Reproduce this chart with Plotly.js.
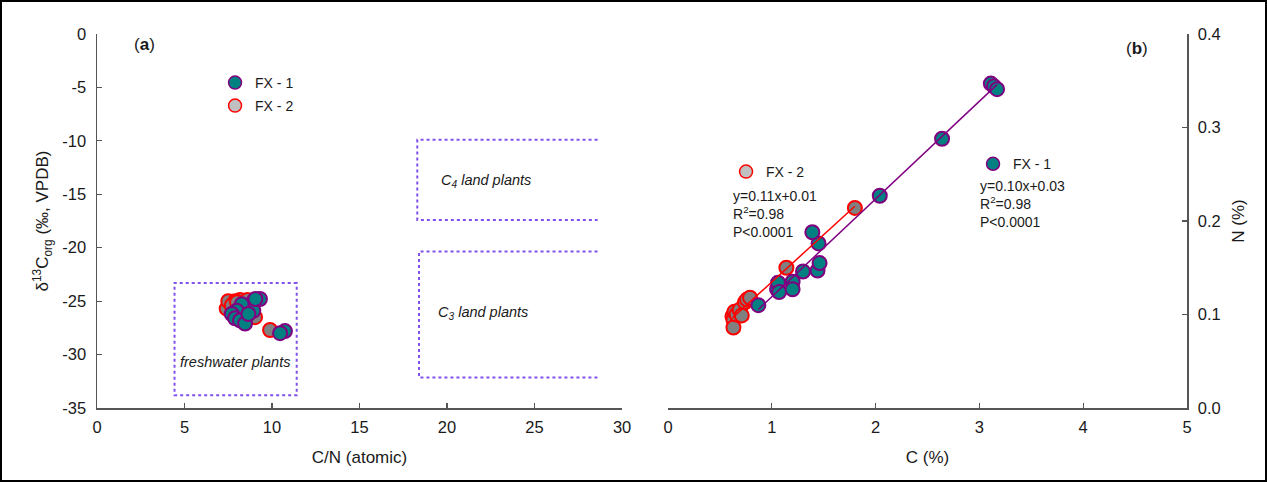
<!DOCTYPE html>
<html><head><meta charset="utf-8">
<script src="https://cdn.plot.ly/plotly-3.0.1.min.js"></script>
<style>
html,body{margin:0;padding:0;background:#fff;}
#wrap{position:relative;width:1267px;height:482px;}
#chart{position:absolute;left:0;top:0;width:1267px;height:482px;}
#frame{position:absolute;left:0;top:0;width:1267px;height:482px;box-sizing:border-box;border:2px solid #000;pointer-events:none;}
</style></head><body>
<div id="wrap"><div id="chart"></div><div id="frame"></div></div>
<script>
// ---- Panel (a): C/N (atomic) vs d13C_org ----
const aFX1_CN = [9.31, 8.97, 8.84, 8.55, 8.27, 7.98, 7.70, 7.89, 8.17, 8.46, 8.93, 8.65, 10.74, 10.46, 9.05];
const aFX1_d13C = [-24.8, -24.95, -25.3, -25.6, -25.3, -25.9, -26.2, -26.6, -26.8, -27.1, -25.9, -26.2, -27.8, -28.0, -24.8];
const aFX2_CN = [7.56, 8.17, 8.90, 9.03, 9.89, 7.41, 7.50, 8.30, 7.90, 7.70, 8.00, 8.60];
const aFX2_d13C = [-25.2, -24.9, -26.2, -26.5, -27.7, -25.7, -25.0, -25.3, -25.0, -25.4, -25.1, -24.9];

// ---- Panel (b): C (%) vs N (%) ----
const bFX1_C = [0.87, 1.05, 1.06, 1.07, 1.20, 1.20, 1.30, 1.44, 1.46, 1.45, 1.39, 2.04, 2.64, 3.11, 3.14, 3.17];
const bFX1_N = [0.110, 0.127, 0.134, 0.124, 0.135, 0.127, 0.146, 0.147, 0.155, 0.176, 0.188, 0.227, 0.288, 0.347, 0.344, 0.341];
const bFX2_C = [0.62, 0.63, 0.63, 0.64, 0.66, 0.69, 0.71, 0.74, 0.76, 0.79, 1.14, 1.80];
const bFX2_N = [0.098, 0.094, 0.086, 0.103, 0.100, 0.105, 0.099, 0.113, 0.116, 0.118, 0.150, 0.214];

// ---- Tick labels ----
const aXTicks = [0, 5, 10, 15, 20, 25, 30];
const aYTickVals = [0, -5, -10, -15, -20, -25, -30, -35];
const aYTickText = ['0', '-5', '-10', '-15', '-20', '-25', '-30', '-35'];
const bXTicks = [0, 1, 2, 3, 4, 5];
const bYTickVals = [0, 0.1, 0.2, 0.3, 0.4];
const bYTickText = ['0.0', '0.1', '0.2', '0.3', '0.4'];

// ---- Source regions (C/N atomic, d13C) ----
const freshwaterBox = {cn: [4.43, 11.41], d: [-23.3, -33.8]};
const c4Box = {cn: [18.3, 28.6], d: [-9.9, -17.4]};
const c3Box = {cn: [18.4, 28.6], d: [-20.35, -32.15]};

// ---- Regression text ----
const eqFX2 = 'y=0.11x+0.01<br>R<sup>2</sup>=0.98<br>P&lt;0.0001';
const eqFX1 = 'y=0.10x+0.03<br>R<sup>2</sup>=0.98<br>P&lt;0.0001';

function fit(xs, ys) {
  const n = xs.length;
  const mx = xs.reduce((s, v) => s + v, 0) / n;
  const my = ys.reduce((s, v) => s + v, 0) / n;
  let sxy = 0, sxx = 0;
  for (let i = 0; i < n; i++) { sxy += (xs[i] - mx) * (ys[i] - my); sxx += (xs[i] - mx) ** 2; }
  const b = sxy / sxx, a = my - b * mx;
  const x0 = Math.min(...xs), x1 = Math.max(...xs);
  return {x: [x0, x1], y: [a + b * x0, a + b * x1]};
}

const TEAL = '#008080', PURPLE = '#800080', GREY = '#808080', RED = '#ff0000', BOX = '#8050ee';
const FONT = 'Arial, "Liberation Sans", sans-serif';
const mFX1 = {color: TEAL, size: 14, line: {color: PURPLE, width: 2}};
const mFX2 = {color: GREY, size: 14, line: {color: RED, width: 2}};

const l2 = fit(bFX2_C, bFX2_N);
const l1 = fit(bFX1_C, bFX1_N);

const traces = [
  {x: aFX2_CN, y: aFX2_d13C, xaxis: 'x', yaxis: 'y', mode: 'markers', marker: mFX2, showlegend: false},
  {x: aFX1_CN, y: aFX1_d13C, xaxis: 'x', yaxis: 'y', mode: 'markers', marker: mFX1, showlegend: false},
  {x: bFX2_C, y: bFX2_N, xaxis: 'x2', yaxis: 'y2', mode: 'markers', marker: mFX2, showlegend: false},
  {x: bFX1_C, y: bFX1_N, xaxis: 'x2', yaxis: 'y2', mode: 'markers', marker: mFX1, showlegend: false},
  {x: l2.x, y: l2.y, xaxis: 'x2', yaxis: 'y2', mode: 'lines', line: {color: RED, width: 1.5}, showlegend: false},
  {x: l1.x, y: l1.y, xaxis: 'x2', yaxis: 'y2', mode: 'lines', line: {color: PURPLE, width: 1.5}, showlegend: false},
  // legend entries
  {x: [null], y: [null], xaxis: 'x', yaxis: 'y', mode: 'markers', name: 'FX - 1', legend: 'legend',
   marker: {color: TEAL, size: 13, line: {color: PURPLE, width: 1.5}}},
  {x: [null], y: [null], xaxis: 'x', yaxis: 'y', mode: 'markers', name: 'FX - 2', legend: 'legend2',
   marker: {color: '#c0c0c0', size: 13, line: {color: RED, width: 1.5}}},
  {x: [null], y: [null], xaxis: 'x', yaxis: 'y', mode: 'markers', name: 'FX - 2', legend: 'legend3',
   marker: {color: '#c0c0c0', size: 13, line: {color: RED, width: 1.5}}},
  {x: [null], y: [null], xaxis: 'x', yaxis: 'y', mode: 'markers', name: 'FX - 1', legend: 'legend4',
   marker: {color: TEAL, size: 13, line: {color: PURPLE, width: 1.5}}}
];

function openBox(b, closed) {
  const [xl, xr] = b.cn, [yt, yb] = b.d;
  let p = `M ${xr},${yt} L ${xl},${yt} L ${xl},${yb} L ${xr},${yb}`;
  if (closed) p += ' Z';
  return {type: 'path', xref: 'x', yref: 'y', path: p, line: {color: BOX, width: 2, dash: 'dot'}};
}

const legBase = {bgcolor: 'rgba(0,0,0,0)', borderwidth: 0, font: {family: FONT, size: 14, color: '#1a1a1a'},
  xanchor: 'left', yanchor: 'middle', itemclick: false, itemdoubleclick: false};

const tickFont = {family: FONT, size: 16.5, color: '#1a1a1a'};
const titleFont = {family: FONT, size: 17, color: '#1a1a1a'};
const labFont = {family: FONT, size: 14.5, color: '#1a1a1a'};
const eqFont = {family: FONT, size: 14, color: '#1a1a1a'};
const axCommon = {showgrid: false, zeroline: false, showline: true, linecolor: '#555', linewidth: 1.5,
  ticks: 'inside', ticklen: 5, tickwidth: 1.2, tickcolor: '#555', tickfont: tickFont};

const layout = {
  width: 1267, height: 482,
  margin: {l: 97, r: 80, t: 34, b: 74, pad: 0},
  paper_bgcolor: '#fff', plot_bgcolor: '#fff',
  font: {family: FONT, color: '#1a1a1a'},
  xaxis: Object.assign({}, axCommon, {domain: [0, 0.4817], range: [0, 30], anchor: 'y',
    tickmode: 'array', tickvals: aXTicks, ticklabelstandoff: 4,
    title: {text: 'C/N (atomic)', font: titleFont, standoff: 16}}),
  yaxis: Object.assign({}, axCommon, {domain: [0, 1], range: [-35, 0], anchor: 'x',
    tickmode: 'array', tickvals: aYTickVals, ticktext: aYTickText, ticklabelstandoff: 6,
    title: {text: 'δ<sup>13</sup>C<sub>org</sub> (‰, VPDB)', font: titleFont, standoff: 9}}),
  xaxis2: Object.assign({}, axCommon, {domain: [0.5239, 1], range: [0, 5], anchor: 'y2',
    tickmode: 'array', tickvals: bXTicks, ticklabelstandoff: 4,
    title: {text: 'C (%)', font: titleFont, standoff: 16}}),
  yaxis2: Object.assign({}, axCommon, {domain: [0, 1], range: [0, 0.4], anchor: 'x2', side: 'right',
    tickmode: 'array', tickvals: bYTickVals, ticktext: bYTickText, ticklabelstandoff: 6,
    title: {text: 'N (%)', font: titleFont, standoff: 12}}),
  legend: Object.assign({}, legBase, {x: 0.1083, y: 0.869}),
  legend2: Object.assign({}, legBase, {x: 0.1083, y: 0.8075}),
  legend3: Object.assign({}, legBase, {x: 0.5771, y: 0.631}),
  legend4: Object.assign({}, legBase, {x: 0.8037, y: 0.652}),
  shapes: [openBox(freshwaterBox, true), openBox(c4Box, false), openBox(c3Box, false)],
  annotations: [
    {xref: 'x', yref: 'y', x: 2.69, y: -0.94, text: '(<b>a</b>)', showarrow: false, font: titleFont},
    {xref: 'x2', yref: 'y2', x: 4.52, y: 0.384, text: '(<b>b</b>)', showarrow: false, font: titleFont},
    {xref: 'x', yref: 'y', x: 22.2, y: -13.75, text: '<i>C<sub>4</sub> land plants</i>', showarrow: false, font: labFont},
    {xref: 'x', yref: 'y', x: 22.06, y: -26.1, text: '<i>C<sub>3</sub> land plants</i>', showarrow: false, font: labFont},
    {xref: 'x', yref: 'y', x: 7.89, y: -30.7, text: '<i>freshwater plants</i>', showarrow: false, font: labFont},
    {xref: 'x2', yref: 'y2', x: 0.606, y: 0.208, xanchor: 'left', align: 'left', text: eqFX2, showarrow: false, font: eqFont},
    {xref: 'x2', yref: 'y2', x: 2.99, y: 0.218, xanchor: 'left', align: 'left', text: eqFX1, showarrow: false, font: eqFont}
  ]
};

Plotly.newPlot('chart', traces, layout, {displayModeBar: false, staticPlot: true});
</script>
</body></html>
